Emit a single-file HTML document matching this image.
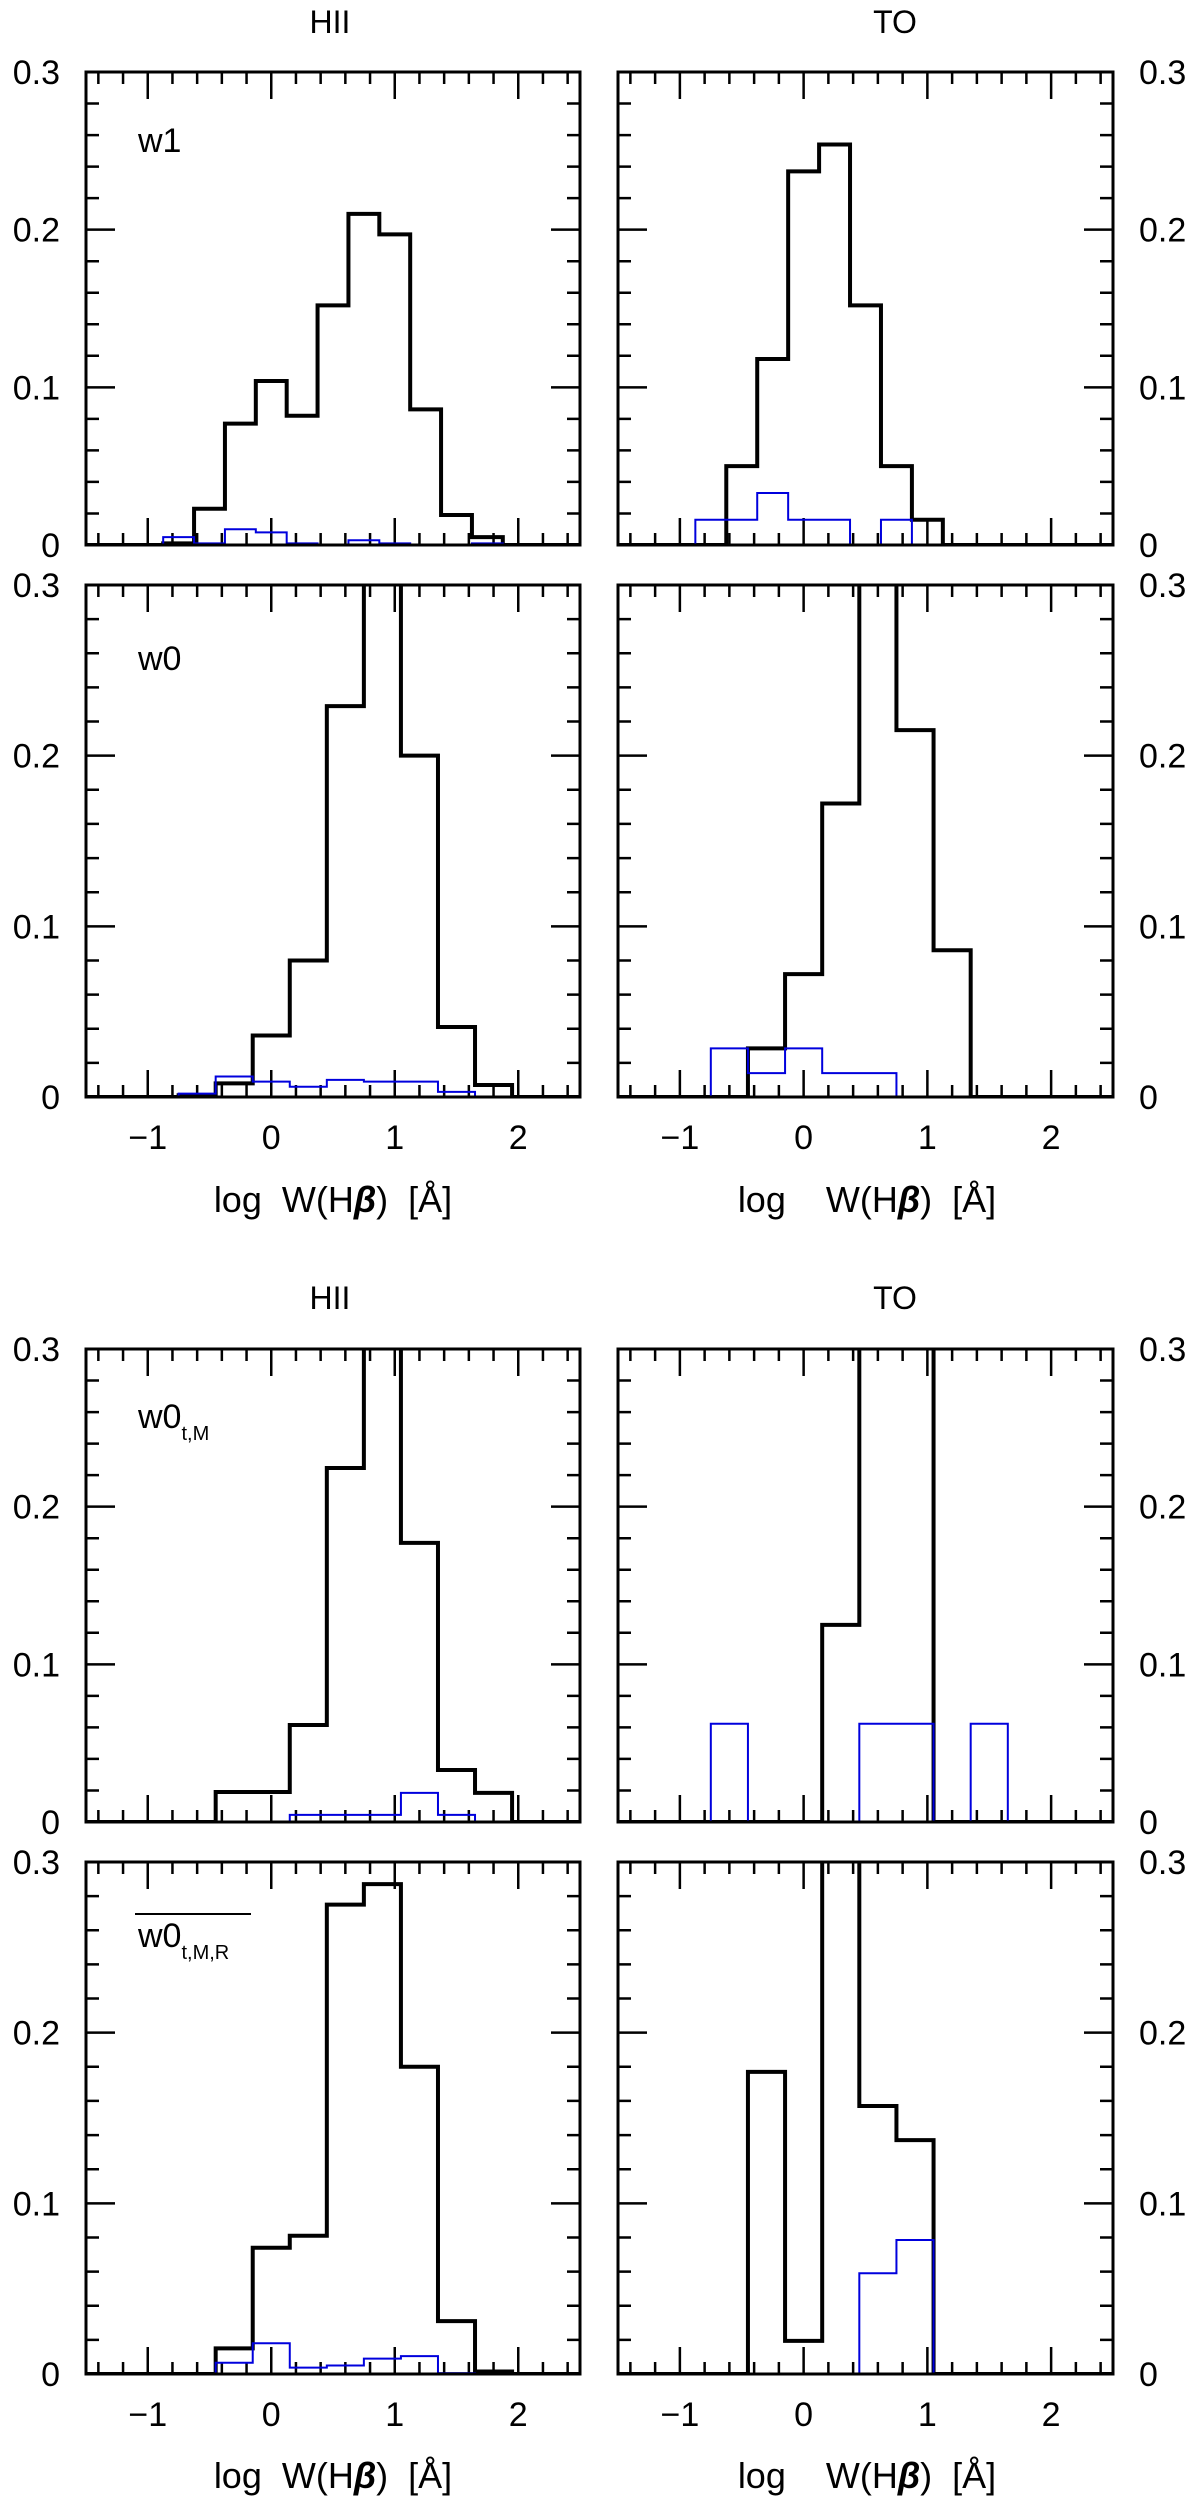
<!DOCTYPE html>
<html><head><meta charset="utf-8">
<style>
html,body{margin:0;padding:0;background:#fff;}
svg{display:block;font-family:"Liberation Sans",sans-serif;}
text{fill:#000;}
</style></head>
<body>
<svg id="fig" width="1200" height="2502" viewBox="0 0 1200 2502" xmlns="http://www.w3.org/2000/svg">
<g id="static">
  <text x="330" y="33" font-size="32" text-anchor="middle">HII</text>
  <text x="895" y="33" font-size="32" text-anchor="middle">TO</text>
  <text x="330" y="1309" font-size="32" text-anchor="middle">HII</text>
  <text x="895" y="1309" font-size="32" text-anchor="middle">TO</text>
  <text x="138" y="152" font-size="34">w1</text>
  <text x="138" y="670" font-size="34">w0</text>
  <text x="138" y="1428" font-size="34">w0<tspan font-size="20" dy="12">t,M</tspan></text>
  <line x1="135" y1="1914" x2="251" y2="1914" stroke="#000" stroke-width="2"/>
  <text x="138" y="1947" font-size="34">w0<tspan font-size="20" dy="12">t,M,R</tspan></text>
  <text x="333" y="1212" font-size="36" text-anchor="middle" xml:space="preserve">log  W(H<tspan font-weight="bold" font-style="italic">β</tspan>)  [Å]</text>
  <text x="867" y="1212" font-size="36" text-anchor="middle" xml:space="preserve">log    W(H<tspan font-weight="bold" font-style="italic">β</tspan>)  [Å]</text>
  <text x="333" y="2488" font-size="36" text-anchor="middle" xml:space="preserve">log  W(H<tspan font-weight="bold" font-style="italic">β</tspan>)  [Å]</text>
  <text x="867" y="2488" font-size="36" text-anchor="middle" xml:space="preserve">log    W(H<tspan font-weight="bold" font-style="italic">β</tspan>)  [Å]</text>
</g>
</svg>
<script>
// ---- data ----
const xTickValues = [-1, 0, 1, 2];
const xTickLabels = ["−1", "0", "1", "2"];
const yTickValues = [0, 0.1, 0.2, 0.3];
const yTickLabels = ["0", "0.1", "0.2", "0.3"];

const edgesA_HII = [-0.875,-0.625,-0.375,-0.125,0.125,0.375,0.625,0.875,1.125,1.375,1.625,1.875];
const blackA_HII = [0.001,0.023,0.077,0.104,0.082,0.152,0.210,0.197,0.086,0.019,0.005];
const blueA_HII  = [0.005,0.001,0.010,0.008,0.001,0.000,0.003,0.001,0.000,0.000,0.001];

const edgesA_TO = [-0.875,-0.625,-0.375,-0.125,0.125,0.375,0.625,0.875,1.125];
const blackA_TO = [0.000,0.050,0.118,0.237,0.254,0.152,0.050,0.016];
const blueA_TO  = [0.016,0.016,0.033,0.016,0.016,0.000,0.016,0.000];

const edgesB_HII = [-0.75,-0.45,-0.15,0.15,0.45,0.75,1.05,1.35,1.65,1.95];
const blackB_HII = [0.001,0.008,0.036,0.080,0.229,0.350,0.200,0.041,0.007];
const blueB_HII  = [0.002,0.012,0.009,0.006,0.010,0.009,0.009,0.003,0.000];

const edgesB_TO = [-0.75,-0.45,-0.15,0.15,0.45,0.75,1.05,1.35];
const blackB_TO = [0.000,0.0285,0.072,0.172,0.350,0.215,0.086];
const blueB_TO  = [0.0285,0.014,0.0285,0.014,0.014,0.000,0.000];

const edgesC_HII = [-0.45,-0.15,0.15,0.45,0.75,1.05,1.35,1.65,1.95];
const blackC_HII = [0.019,0.019,0.0615,0.2245,0.350,0.177,0.033,0.0185];
const blueC_HII  = [0.000,0.000,0.0045,0.0045,0.0045,0.0185,0.0045,0.000];

const edgesC_TO = [-0.75,-0.45,-0.15,0.15,0.45,0.75,1.05,1.35,1.65];
const blackC_TO = [0.000,0.000,0.000,0.125,0.350,0.350,0.000,0.000];
const blueC_TO  = [0.0623,0.000,0.000,0.000,0.0623,0.0623,0.000,0.0623];

const edgesD_HII = [-0.45,-0.15,0.15,0.45,0.75,1.05,1.35,1.65,1.95];
const blackD_HII = [0.015,0.074,0.081,0.275,0.287,0.180,0.031,0.0015];
const blueD_HII  = [0.0066,0.018,0.0037,0.005,0.009,0.0105,0.0005,0.000];

const edgesD_TO = [-0.45,-0.15,0.15,0.45,0.75,1.05];
const blackD_TO = [0.177,0.0194,0.350,0.157,0.137];
const blueD_TO  = [0.000,0.000,0.000,0.059,0.0785];

// ---- layout ----
const NS = "http://www.w3.org/2000/svg";
const svg = document.getElementById("fig");
const X_MIN = -1.5, X_MAX = 2.5, Y_MAX = 0.3;
const cols = {left:{x0:86,x1:580}, right:{x0:618,x1:1113}};
const rows = [{id:"a",top:72,bottom:545,xlab:false},{id:"b",top:585,bottom:1097,xlab:true},
              {id:"c",top:1349,bottom:1822,xlab:false},{id:"d",top:1862,bottom:2374,xlab:true}];
const panelData = {
  a:{left:[edgesA_HII,blackA_HII,blueA_HII], right:[edgesA_TO,blackA_TO,blueA_TO]},
  b:{left:[edgesB_HII,blackB_HII,blueB_HII], right:[edgesB_TO,blackB_TO,blueB_TO]},
  c:{left:[edgesC_HII,blackC_HII,blueC_HII], right:[edgesC_TO,blackC_TO,blueC_TO]},
  d:{left:[edgesD_HII,blackD_HII,blueD_HII], right:[edgesD_TO,blackD_TO,blueD_TO]}
};
function mk(tag, attrs, parent){
  const e = document.createElementNS(NS, tag);
  for (const k in attrs) e.setAttribute(k, attrs[k]);
  (parent||svg).appendChild(e);
  return e;
}
function stepPath(edges, vals, xs, ys){
  let d = "M"+xs(X_MIN)+","+ys(0)+" L"+xs(edges[0])+","+ys(0);
  for (let i=0;i<vals.length;i++){
    d += " L"+xs(edges[i])+","+ys(vals[i])+" L"+xs(edges[i+1])+","+ys(vals[i]);
  }
  d += " L"+xs(edges[edges.length-1])+","+ys(0)+" L"+xs(X_MAX)+","+ys(0);
  return d;
}
rows.forEach(r=>{
  ["left","right"].forEach(side=>{
    const c = cols[side];
    const xs = v => c.x0 + (v - X_MIN)/(X_MAX - X_MIN)*(c.x1 - c.x0);
    const ys = v => r.bottom - v/Y_MAX*(r.bottom - r.top);
    const g = mk("g", {});
    
    
    const cid = "clip-"+r.id+side;
    const cp = mk("clipPath", {id:cid}, g);
    mk("rect", {x:c.x0, y:r.top, width:c.x1-c.x0, height:r.bottom-r.top}, cp);
    let td = "";
    for (let k=0;k<=15;k++){
      const v = k*0.02; const y = ys(v); const major = (k%5===0);
      const L = major?29:13;
      td += "M"+c.x0+","+y+"h"+L+"M"+c.x1+","+y+"h"+(-L);
    }
    for (let k=-7;k<=12;k++){
      const v = k*0.2; if (v < X_MIN-1e-9 || v > X_MAX+1e-9) continue;
      const x = xs(v); const major = Math.abs(v-Math.round(v))<1e-9;
      const L = major?27:12;
      td += "M"+x+","+r.top+"v"+L+"M"+x+","+r.bottom+"v"+(-L);
    }
    const ticks = mk("path", {d:td, stroke:"#000", "stroke-width":2.5, fill:"none"}, g);
    
    
    const [edges, blk, blu] = panelData[r.id][side];
    const hb = mk("path", {d:stepPath(edges, blk, xs, ys), stroke:"#000", "stroke-width":4, fill:"none", "clip-path":"url(#"+cid+")"}, g);
    
    
    const hl = mk("path", {d:stepPath(edges, blu, xs, ys), stroke:"#0000dd", "stroke-width":2, fill:"none", "clip-path":"url(#"+cid+")"}, g);
    
    
    const fr = mk("rect", {x:c.x0, y:r.top, width:c.x1-c.x0, height:r.bottom-r.top, fill:"none", stroke:"#000", "stroke-width":3}, g);
    
    
    yTickValues.forEach((v,i)=>{
      const t = mk("text", {x: side==="left"?60:1139, y: ys(v)+12, "font-size":34, "text-anchor": side==="left"?"end":"start"}, g);
      t.textContent = yTickLabels[i];
      
      
    });
    if (r.xlab){
      xTickValues.forEach((v,i)=>{
        const t = mk("text", {x: xs(v), y: r.bottom+52, "font-size":34, "text-anchor":"middle"}, g);
        t.textContent = xTickLabels[i];
        
        
      });
    }
  });
});
</script>
</body></html>
